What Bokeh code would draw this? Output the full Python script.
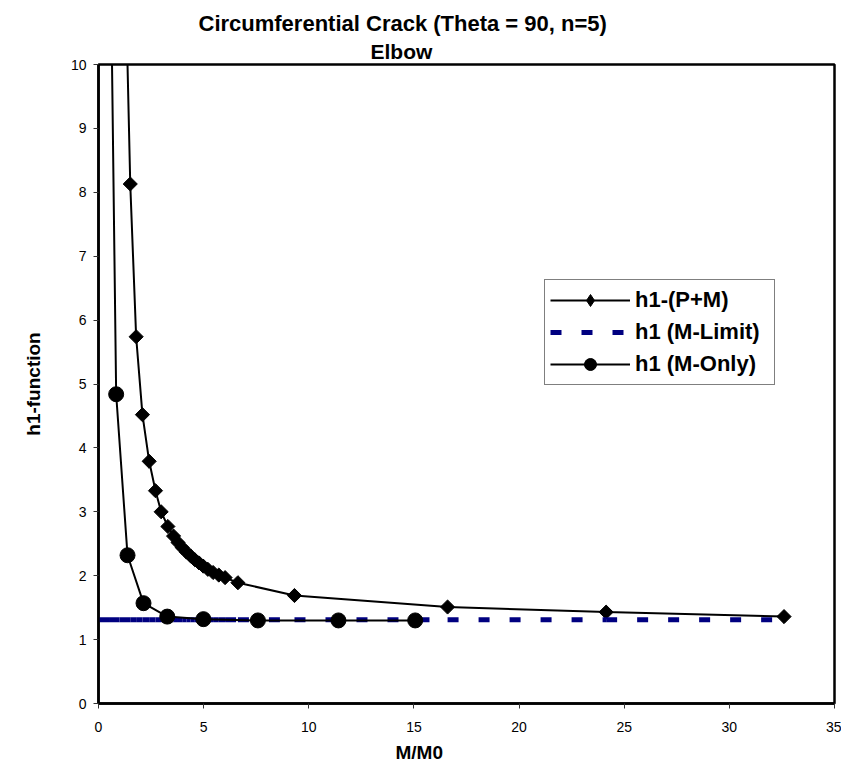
import numpy as np
from bokeh.plotting import figure
from bokeh.models import Range1d, Legend, LegendItem, Title, FixedTicker
from bokeh.embed import file_html
from bokeh.resources import INLINE

# h1-function for the circumferential crack in an elbow (Theta = 90, n = 5)
pm_x = [1.24, 1.51, 1.79, 2.09, 2.41, 2.71, 2.98, 3.30, 3.57, 3.78, 3.98, 4.18,
        4.38, 4.58, 4.78, 4.98, 5.20, 5.45, 5.72, 6.02, 6.63, 9.32, 16.6, 24.14, 32.6]
pm_y = [12.0, 8.13, 5.74, 4.52, 3.79, 3.33, 3.00, 2.77, 2.62, 2.52, 2.44, 2.37,
        2.31, 2.25, 2.20, 2.15, 2.10, 2.05, 2.01, 1.97, 1.89, 1.69, 1.51, 1.43, 1.36]

mo_x = [0.49, 0.84, 1.38, 2.14, 3.27, 4.99, 7.58, 11.41, 15.06]
mo_y = [14.0, 4.84, 2.32, 1.57, 1.36, 1.32, 1.30, 1.30, 1.30]

h1_limit = 1.31
ml_x = [0.0, 0.5, 1.0, 1.51, 1.79, 2.09, 2.41, 2.71, 2.98, 3.30, 3.57, 3.78, 3.98,
        4.18, 4.38, 4.58, 4.78, 4.98, 5.20, 5.45, 5.72, 6.02, 6.63, 9.32, 16.6,
        24.14, 32.6]
ml_y = [h1_limit] * len(ml_x)

x_ticks = [0, 5, 10, 15, 20, 25, 30, 35]
y_ticks = [0, 1, 2, 3, 4, 5, 6, 7, 8, 9, 10]

FONT = "Liberation Sans"

p = figure(width=841, height=768, x_range=Range1d(0, 35), y_range=Range1d(0, 10),
           output_backend="svg", toolbar_location=None,
           min_border_left=98, min_border_right=7, min_border_top=64,
           min_border_bottom=64)

p.background_fill_color = "white"
p.border_fill_color = "white"
p.outline_line_color = "black"
p.outline_line_width = 2.5
p.xgrid.visible = False
p.ygrid.visible = False

for ax in (p.xaxis, p.yaxis):
    ax.axis_line_color = "black"
    ax.axis_line_width = 2.5
    ax.major_tick_line_color = "#333333"
    ax.major_tick_line_width = 1
    ax.major_tick_out = 5
    ax.major_tick_in = 0
    ax.minor_tick_line_color = None
    ax.major_label_text_font = FONT
    ax.major_label_text_font_size = "14px"
    ax.major_label_text_color = "black"

p.xaxis.ticker = FixedTicker(ticks=x_ticks)
p.yaxis.ticker = FixedTicker(ticks=y_ticks)
p.xaxis.major_label_standoff = 13
p.yaxis.major_label_standoff = 7

p.yaxis.axis_label = "h1-function"
p.yaxis.axis_label_text_font = FONT
p.yaxis.axis_label_text_font_size = "19px"
p.yaxis.axis_label_text_font_style = "bold"
p.yaxis.axis_label_text_color = "black"
p.yaxis.axis_label_standoff = 24

# titles (later "above" entries sit further from the frame)
p.add_layout(Title(text="Elbow", align="left", offset=272, text_font=FONT,
                   text_font_size="21px", text_font_style="bold",
                   text_color="black", standoff=4), "above")
p.add_layout(Title(text="Circumferential Crack (Theta = 90, n=5)", align="left",
                   offset=100, text_font=FONT, text_font_size="22px",
                   text_font_style="bold", text_color="black", standoff=0), "above")
p.add_layout(Title(text="M/M0", align="left", offset=297, text_font=FONT,
                   text_font_size="19px", text_font_style="bold",
                   text_color="black", standoff=11), "below")

# series
pm_line = p.line(pm_x, pm_y, line_color="black", line_width=2)
# small diamonds (legend swatch), hidden under the square-on-point markers
pm_key = p.scatter(pm_x, pm_y, marker="diamond", size=9,
                   fill_color="black", line_color="black")
pm_pts = p.scatter(pm_x, pm_y, marker="square", angle=np.pi / 4, size=10,
                   fill_color="black", line_color="black")

ml_seg = p.segment(x0=ml_x[:-1], y0=ml_y[:-1], x1=ml_x[1:], y1=ml_y[1:],
                   line_color="#000080", line_width=5, line_dash="11 20")

mo_line = p.line(mo_x, mo_y, line_color="black", line_width=2)
mo_pts = p.scatter(mo_x, mo_y, marker="circle", size=15,
                   fill_color="black", line_color="black")

legend = Legend(items=[
    LegendItem(label="h1-(P+M)", renderers=[pm_line, pm_key]),
    LegendItem(label="h1 (M-Limit)", renderers=[ml_seg]),
    LegendItem(label="h1 (M-Only)", renderers=[mo_line, mo_pts]),
], location=(446, 318))
legend.border_line_color = "black"
legend.border_line_width = 1
legend.background_fill_color = "white"
legend.background_fill_alpha = 1.0
legend.label_text_font = FONT
legend.label_text_font_style = "bold"
legend.label_text_font_size = "22px"
legend.label_text_color = "black"
legend.glyph_width = 80
legend.glyph_height = 30
legend.label_height = 30
legend.label_width = 134
legend.spacing = 2
legend.padding = 5
legend.margin = 0
legend.label_standoff = 5
p.add_layout(legend)

open("out.html", "w").write(file_html(p, INLINE))
